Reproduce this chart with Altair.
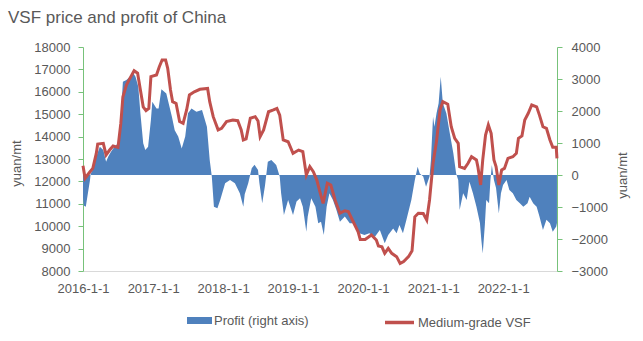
import altair as alt
import pandas as pd

# ---- data (decimal years) ----
price_years = [2016.00, 2016.03, 2016.10, 2016.14, 2016.19, 2016.21, 2016.29, 2016.33, 2016.38, 2016.43,
               2016.50, 2016.54, 2016.57, 2016.62, 2016.67, 2016.73, 2016.78, 2016.82, 2016.86, 2016.90,
               2016.94, 2016.97, 2017.05, 2017.09, 2017.13, 2017.18, 2017.21, 2017.25, 2017.28, 2017.33,
               2017.38, 2017.43, 2017.48, 2017.52, 2017.59, 2017.67, 2017.78, 2017.81, 2017.86, 2017.93,
               2017.98, 2018.05, 2018.14, 2018.21, 2018.26, 2018.29, 2018.33, 2018.39, 2018.46, 2018.50,
               2018.53, 2018.58, 2018.65, 2018.72, 2018.77, 2018.81, 2018.86, 2018.93, 2019.00, 2019.08,
               2019.14, 2019.19, 2019.24, 2019.29, 2019.34, 2019.39, 2019.43, 2019.49, 2019.54, 2019.60,
               2019.67, 2019.74, 2019.79, 2019.86, 2019.93, 2019.96, 2020.03, 2020.12, 2020.19, 2020.22,
               2020.27, 2020.31, 2020.36, 2020.41, 2020.48, 2020.53, 2020.58, 2020.65, 2020.70, 2020.74,
               2020.79, 2020.86, 2020.91, 2020.95, 2021.00, 2021.05, 2021.10, 2021.14, 2021.21, 2021.26,
               2021.31, 2021.36, 2021.38, 2021.45, 2021.50, 2021.55, 2021.62, 2021.64, 2021.68, 2021.71,
               2021.75, 2021.79, 2021.83, 2021.87, 2021.90, 2021.94, 2021.98, 2022.02, 2022.07, 2022.14,
               2022.19, 2022.22, 2022.27, 2022.31, 2022.36, 2022.41, 2022.48, 2022.52, 2022.57, 2022.62,
               2022.67, 2022.71, 2022.76, 2022.77]
price_values = [12700, 12140, 12430, 12580, 13250, 13670, 13700, 13180, 13400, 13580,
                13520, 14590, 15780, 16300, 16600, 16940, 16830, 16080, 15330, 15160,
                15260, 16680, 16750, 17120, 17420, 17420, 17050, 16080, 15560, 15480,
                14670, 14590, 15190, 15860, 16000, 16110, 16150, 15560, 14890, 14300,
                14370, 14670, 14740, 14710, 14300, 13850, 13900, 14820, 14890, 14700,
                14000, 14300, 15110, 15190, 15260, 14960, 13850, 13770, 13250, 13400,
                13330, 12290, 12660, 12430, 12060, 11470, 11020, 11920, 11840, 11170,
                10580, 10690, 10650, 10200, 9750, 9410, 9410, 9610, 9380, 9120,
                9080, 8790, 9010, 8790, 8640, 8340, 8420, 8640, 8900, 10420,
                10580, 10570, 10280, 11170, 12810, 13800, 15190, 15560, 15450, 14440,
                13920, 13700, 12660, 12580, 12810, 13100, 12960, 12660, 11840, 12960,
                14070, 14520, 14150, 12960, 12660, 11840, 12510, 12580, 13030, 13100,
                13250, 13920, 14030, 14740, 15040, 15410, 15330, 14960, 14440, 14370,
                13850, 13520, 13520, 13030]

profit_years = [2016.00, 2016.01, 2016.04, 2016.07, 2016.10, 2016.11, 2016.14, 2016.19, 2016.24, 2016.29,
                2016.33, 2016.36, 2016.40, 2016.45, 2016.50, 2016.54, 2016.57, 2016.62, 2016.67, 2016.72,
                2016.75, 2016.79, 2016.82, 2016.86, 2016.89, 2016.93, 2016.97, 2016.99, 2017.05, 2017.08,
                2017.12, 2017.19, 2017.27, 2017.31, 2017.36, 2017.41, 2017.46, 2017.50, 2017.55, 2017.62,
                2017.70, 2017.77, 2017.81, 2017.84, 2017.87, 2017.92, 2017.96, 2018.03, 2018.10, 2018.17,
                2018.24, 2018.29, 2018.31, 2018.36, 2018.41, 2018.45, 2018.50, 2018.52, 2018.56, 2018.60,
                2018.64, 2018.69, 2018.76, 2018.81, 2018.83, 2018.87, 2018.93, 2019.00, 2019.05, 2019.10,
                2019.14, 2019.19, 2019.21, 2019.26, 2019.32, 2019.36, 2019.40, 2019.44, 2019.48, 2019.52,
                2019.57, 2019.62, 2019.67, 2019.74, 2019.81, 2019.88, 2019.95, 2020.02, 2020.09, 2020.17,
                2020.24, 2020.31, 2020.36, 2020.43, 2020.48, 2020.52, 2020.57, 2020.62, 2020.69, 2020.74,
                2020.78, 2020.81, 2020.86, 2020.90, 2020.95, 2020.97, 2021.00, 2021.02, 2021.05, 2021.08,
                2021.11, 2021.14, 2021.19, 2021.24, 2021.29, 2021.33, 2021.36, 2021.38, 2021.43, 2021.48,
                2021.52, 2021.57, 2021.62, 2021.67, 2021.69, 2021.71, 2021.74, 2021.76, 2021.80, 2021.82,
                2021.84, 2021.87, 2021.90, 2021.94, 2021.97, 2022.00, 2022.05, 2022.09, 2022.14, 2022.19,
                2022.24, 2022.29, 2022.35, 2022.38, 2022.43, 2022.48, 2022.52, 2022.57, 2022.62, 2022.67,
                2022.71, 2022.76, 2022.77]
profit_values = [-700, -950, -990, -570, -160, 50, 160, 570, 885, 780,
                 415, 570, 730, 885, 990, 1820, 2915, 2970, 3070, 3180,
                 3070, 2760, 1930, 990, 780, 885, 1720, 2290, 2080, 2080,
                 2680, 2550, 1820, 1400, 1200, 830, 1200, 1930, 2080, 1980,
                 2030, 1510, 470, -50, -990, -1040, -780, -260, -160, -260,
                 -570, -990, -600, -260, 210, 320, 160, -260, -885, -330,
                 415, 470, 310, -50, -570, -1250, -780, -1250, -830, -730,
                 -990, -1770, -1300, -730, -990, -1510, -1460, -1875, -990, -570,
                 -780, -1090, -1460, -1300, -1510, -1510, -1820, -1875, -1820, -1930,
                 -1720, -2135, -1875, -1670, -1820, -1560, -1820, -1400, -780, -160,
                 260, 50, -50, -365, -50, 470, 1820, 1510, 1930, 2240,
                 3070, 2240, 1930, 1300, 680, 50, -160, -1090, -570, -780,
                 -210, -570, -990, -1500, -2030, -2450, -1560, -780, -885, -160,
                 310, -160, -410, -1200, -570, -310, -160, -470, -570, -780,
                 -885, -990, -885, -680, -885, -990, -1300, -1720, -1400, -1510,
                 -1770, -1610, -1500]

price_name = "Medium-grade VSF"
profit_name = "Profit (right axis)"


def to_dates(years):
    base = pd.Timestamp("2016-01-01")
    return [(base + pd.Timedelta(days=(y - 2016) * 365.25)).strftime("%Y-%m-%dT%H:%M:%S") for y in years]


price_df = pd.DataFrame({"date": to_dates(price_years), "price": price_values, "series": price_name})
profit_df = pd.DataFrame({"date": to_dates(profit_years), "profit": profit_values, "series": profit_name})

FONT = "Liberation Sans"
TXT = "#595959"
GREEN = "#77c27a"
BLUE = "#4f81bd"
RED = "#c0504d"

x_enc = alt.X(
    "date:T",
    scale=alt.Scale(domain=[alt.DateTime(year=2016, month=1, date=1),
                            alt.DateTime(year=2022, month=10, date=9)]),
    axis=alt.Axis(
        values=[alt.DateTime(year=y, month=1, date=1) for y in range(2016, 2023)],
        format="%Y-%-m-%-d", formatType="time", title=None, grid=False,
        ticks=False, domainColor="#d9d9d9", domainWidth=1,
        labelFont=FONT, labelFontSize=13, labelColor=TXT, labelPadding=11,
        labelOverlap=False, labelFlush=False, labelBound=False,
    ),
)

area = alt.Chart(profit_df).mark_area(interpolate="linear", opacity=1).encode(
    x=x_enc,
    y=alt.Y("profit:Q",
            scale=alt.Scale(domain=[-3000, 4000], nice=False, zero=False),
            axis=alt.Axis(orient="right", values=list(range(-3000, 4001, 1000)), format="d",
                          title="yuan/mt", titleAngle=-90, titleX=65, titleY=128,
                          titleBaseline="middle", titleFont=FONT, titleFontSize=13,
                          titleFontWeight="normal", titleColor=TXT,
                          grid=False, domainColor=GREEN, tickColor=GREEN, tickSize=5,
                          labelFont=FONT, labelFontSize=13, labelColor=TXT, labelPadding=9)),
    y2=alt.datum(0),
    fill=alt.Fill("series:N", scale=alt.Scale(domain=[profit_name], range=[BLUE]),
                  legend=alt.Legend(orient="none", legendX=104, legendY=261, title=None,
                                    symbolType="M-1,-0.28H1V0.28H-1Z", symbolSize=625,
                                    symbolStrokeWidth=0, symbolOpacity=1,
                                    labelFont=FONT, labelFontSize=13, labelColor=TXT,
                                    labelOffset=2, padding=0)),
)

line = alt.Chart(price_df).mark_line(strokeWidth=3, interpolate="linear").encode(
    x=x_enc,
    y=alt.Y("price:Q",
            scale=alt.Scale(domain=[8000, 18000], nice=False, zero=False),
            axis=alt.Axis(orient="left", values=list(range(8000, 18001, 1000)), format="d",
                          title="yuan/mt", titleAngle=-90, titleX=-67, titleY=116,
                          titleBaseline="middle", titleFont=FONT, titleFontSize=13,
                          titleFontWeight="normal", titleColor=TXT,
                          grid=False, domainColor=GREEN, tickColor=GREEN, tickSize=5,
                          labelFont=FONT, labelFontSize=13, labelColor=TXT, labelPadding=8)),
    stroke=alt.Stroke("series:N", scale=alt.Scale(domain=[price_name], range=[RED]),
                      legend=alt.Legend(orient="none", legendX=300, legendY=259, title=None,
                                        symbolType="stroke", symbolSize=841,
                                        symbolStrokeWidth=3.5,
                                        labelFont=FONT, labelFontSize=13, labelColor=TXT,
                                        labelOffset=2, padding=0)),
)

chart = alt.layer(area, line).resolve_scale(
    y="independent", fill="independent", stroke="independent"
).properties(
    width=474, height=224,
    autosize=alt.AutoSizeParams(type="none"),
    padding={"left": 83, "top": 47, "right": 86, "bottom": 70},
    title=alt.TitleParams("VSF price and profit of China", anchor="start", frame="group",
                          font=FONT, fontSize=17, fontWeight="normal", color=TXT,
                          dx=-75, offset=14),
    background="white",
).configure_view(stroke=None)

chart.save("out.html", embed_options={"renderer": "svg", "actions": False})
